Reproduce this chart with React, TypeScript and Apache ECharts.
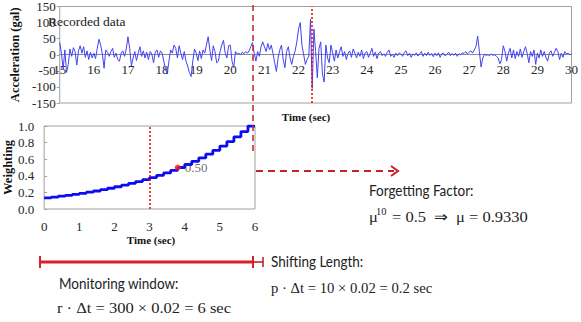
import React, { useEffect, useRef } from "react";
import * as echarts from "echarts";

// ---- Recorded acceleration (gal), sampled every 0.05 s from 15 s to 30 s ----
const accelStart = 15;
const accelStep = 0.05;
const accel15 = [38, 5, -45, 15, -55, -30, 18, -5, 22, 10, -32, 12, 28, 5, 25, -8, 12, -15, 8, -10];
const accel16 = [5, -12, 20, 48, 30, 2, -42, 15, 8, -5, 10, 20, -8, 5, -15, -20, 5, 12, -5, 18];
const accel17 = [56, 20, -35, -10, 10, -18, 5, 25, -5, 12, -10, 8, -15, 10, 2, -25, 8, 15, -8, 12];
const accel18 = [5, -20, -45, -60, -20, 15, 5, 30, 20, -10, 28, 5, -15, 10, -20, -35, -55, -68, -20, 18];
const accel19 = [5, -18, 12, -12, 15, 5, 30, 56, 15, -18, 28, 10, -25, -20, 10, 30, 45, 5, -10, 28];
const accel20 = [30, -20, -40, 10, 2, 5, 0, 8, 3, 10, 5, 12, 25, 38, 5, -20, 10, -5, 25, 40];
const accel21 = [25, 10, 35, 15, 30, 5, -25, -52, -10, 15, 30, -15, -40, 10, 25, -10, -30, -5, 12, 40];
const accel22 = [80, 100, 30, 0, -30, -15, -5, 110, -105, 80, 10, -72, 20, 40, -60, -85, 30, -10, -25, 30];
const accel23 = [5, -20, 15, -10, 8, 25, -5, 10, -15, 5, 12, -8, 18, 5, -10, 8, -5, 15, -12, 5];
const accel24 = [10, -8, 5, 20, -5, 8, -12, 5, 10, -3, 3, -5, 8, 15, -5, 2, -8, 5, -3, 6];
const accel25 = [2, -5, 8, 12, -3, 5, -8, 3, -2, 6, -4, 3, 10, -5, 5, -3, 8, -2, 4, -6];
const accel26 = [5, -3, 6, -8, 3, 5, -4, 2, 8, -3, 4, -2, 5, -5, 3, 0, 6, 4, 10, 2];
const accel27 = [8, 12, 5, 15, 25, 58, 10, -38, -10, 2, -2, 0, -3, 2, -2, 0, -5, -10, -28, -15];
const accel28 = [28, 10, -20, 5, 20, -10, 15, -12, 10, -5, 18, -8, 10, 25, 5, -25, 10, -5, 15, -30];
const accel29 = [5, -10, 15, -5, 10, -8, -20, 5, 12, -5, 8, 20, 10, -15, 5, -8, 10, 2, 5, 0];
const accel30 = [3];

// ---- Forgetting-factor weights over the 6 s window, one step per 0.2 s ----
const weightStep = 0.2;
const weights = [
  0.134, 0.143, 0.154, 0.165, 0.177, 0.189, 0.203, 0.217, 0.233, 0.25,
  0.268, 0.287, 0.308, 0.33, 0.353, 0.379, 0.406, 0.435, 0.466, 0.5,
  0.536, 0.574, 0.615, 0.66, 0.707, 0.758, 0.812, 0.87, 0.933, 1.0,
];
const halfWeightPoint = [3.8, 0.5];
const halfWeightLabel = "0.50";
const windowMarkTime = 3;
const eventMarkTime = 22.38;

const SERIF = "'Liberation Serif', 'Times New Roman', serif";
const SANS = "Lato, 'Open Sans', sans-serif";
const RED = "#c8202a";

function buildOption() {
  const accelAll = [
    accel15, accel16, accel17, accel18, accel19, accel20, accel21, accel22,
    accel23, accel24, accel25, accel26, accel27, accel28, accel29, accel30,
  ].flat();
  const accelData = accelAll.map((v, i) => [
    +(accelStart + i * accelStep).toFixed(2),
    v,
  ]);
  const weightData = weights.map((w, i) => [+(i * weightStep).toFixed(2), w]);
  weightData.push([+(weights.length * weightStep).toFixed(2), weights[weights.length - 1]]);

  const axisLabelStyle = { fontFamily: SERIF, fontSize: 13, color: "#262626" };
  const nameStyle = { fontFamily: SERIF, fontSize: 12.5, fontWeight: "bold" as const, color: "#111" };
  const dottedMark = (value: number) => ({
    silent: true,
    symbol: "none",
    label: { show: false },
    emphasis: { disabled: true },
    lineStyle: { color: "#ff0000", type: [2, 2], width: 1.5, opacity: 1 },
    data: [{ xAxis: value }],
  });

  const sansText = (x: number, y: number, text: string) => ({
    type: "text",
    x,
    y,
    scaleX: 0.9,
    style: { text, font: `15px ${SANS}`, fill: "#222", verticalAlign: "middle" },
  });
  const mathText = (x: number, y: number, text: string, scaleX: number) => ({
    type: "text",
    x,
    y,
    scaleX,
    style: { text, font: `15px ${SERIF}`, fill: "#222", verticalAlign: "middle" },
  });

  return {
    animation: false,
    grid: [
      { left: 40, top: 5, width: 532, height: 98, show: true, borderColor: "#a0a0a0", borderWidth: 1 },
      { left: 40, top: 126, width: 215, height: 83, show: true, borderColor: "#a0a0a0", borderWidth: 1 },
    ],
    xAxis: [
      {
        type: "value",
        gridIndex: 0,
        min: 15,
        max: 30,
        interval: 1,
        position: "bottom",
        offset: -49,
        axisLine: { onZero: false, lineStyle: { color: "#8a8a9a", width: 1 } },
        axisTick: { show: false },
        axisLabel: { ...axisLabelStyle, margin: 9 },
        splitLine: { show: false },
      },
      {
        type: "value",
        gridIndex: 1,
        min: 0,
        max: 6,
        interval: 1,
        axisLine: { show: false },
        axisTick: { show: false },
        axisLabel: { ...axisLabelStyle, margin: 11 },
        splitLine: { show: false },
      },
    ],
    yAxis: [
      {
        type: "value",
        gridIndex: 0,
        min: -150,
        max: 150,
        interval: 50,
        axisLine: { show: false, onZero: false },
        axisTick: { show: true, length: 3, lineStyle: { color: "#a0a0a0" } },
        axisLabel: { ...axisLabelStyle, margin: 4 },
        splitLine: { show: false },
        name: "Acceleration (gal)",
        nameLocation: "middle",
        nameGap: 36,
        nameTextStyle: nameStyle,
      },
      {
        type: "value",
        gridIndex: 1,
        min: 0,
        max: 1,
        interval: 0.2,
        axisLine: { show: false },
        axisTick: { show: true, inside: true, length: 3, lineStyle: { color: "#a0a0a0" } },
        axisLabel: { ...axisLabelStyle, margin: 10, formatter: (v: number) => v.toFixed(1) },
        splitLine: { show: false },
        name: "Weighting",
        nameLocation: "middle",
        nameGap: 30,
        nameTextStyle: nameStyle,
      },
    ],
    series: [
      {
        type: "line",
        xAxisIndex: 0,
        yAxisIndex: 0,
        data: accelData,
        symbol: "none",
        lineStyle: { color: "#4343f0", width: 1 },
        markLine: dottedMark(eventMarkTime),
      },
      {
        type: "line",
        xAxisIndex: 1,
        yAxisIndex: 1,
        data: weightData,
        step: "end",
        symbol: "none",
        lineStyle: { color: "#0c0cf2", width: 2.8 },
        markLine: dottedMark(windowMarkTime),
      },
      {
        type: "scatter",
        xAxisIndex: 1,
        yAxisIndex: 1,
        data: [halfWeightPoint],
        symbolSize: 6,
        itemStyle: { color: "#ff1a1a" },
        label: {
          show: true,
          position: "right",
          distance: 4,
          formatter: () => halfWeightLabel,
          fontFamily: SERIF,
          fontSize: 13,
          color: "#444",
        },
        z: 5,
      },
    ],
    graphic: [
      { type: "text", x: 48, y: 21, style: { text: "Recorded data", font: `13.5px ${SERIF}`, fill: "#1a1a1a", verticalAlign: "middle" } },
      { type: "text", x: 306, y: 117, style: { text: "Time (sec)", font: `bold 11px ${SERIF}`, fill: "#111", align: "center", verticalAlign: "middle" } },
      { type: "text", x: 151, y: 240, style: { text: "Time (sec)", font: `bold 11px ${SERIF}`, fill: "#111", align: "center", verticalAlign: "middle" } },
      // window start marker through both panels
      { type: "line", shape: { x1: 253, y1: 5, x2: 253, y2: 154 }, style: { stroke: RED, lineWidth: 1.5, lineDash: [6, 4] }, z: 10 },
      // arrow pointing to the forgetting factor
      { type: "line", shape: { x1: 256, y1: 171, x2: 394, y2: 171 }, style: { stroke: RED, lineWidth: 2, lineDash: [7, 5] }, z: 10 },
      { type: "polyline", shape: { points: [[391, 166], [398, 171], [391, 176]] }, style: { stroke: RED, lineWidth: 2, fill: "none" }, z: 10 },
      // monitoring window bar
      { type: "line", shape: { x1: 40, y1: 262, x2: 253, y2: 262 }, style: { stroke: "#dc1f2c", lineWidth: 3 } },
      { type: "line", shape: { x1: 40, y1: 256, x2: 40, y2: 268 }, style: { stroke: "#dc1f2c", lineWidth: 2 } },
      { type: "line", shape: { x1: 253, y1: 256, x2: 253, y2: 268 }, style: { stroke: "#dc1f2c", lineWidth: 2 } },
      // shifting length bar
      { type: "line", shape: { x1: 253, y1: 262, x2: 263, y2: 262 }, style: { stroke: "#b01822", lineWidth: 1.5 } },
      { type: "line", shape: { x1: 263, y1: 257, x2: 263, y2: 267 }, style: { stroke: "#b01822", lineWidth: 1.5 } },
      // annotation texts
      sansText(59, 283, "Monitoring window:"),
      mathText(57, 308, "r · Δt = 300 × 0.02 = 6 sec", 1.1),
      sansText(271, 261, "Shifting Length:"),
      mathText(271, 288, "p · Δt = 10 × 0.02 = 0.2 sec", 0.98),
      sansText(369, 190, "Forgetting Factor:"),
      mathText(369, 217, "μ", 1.1),
      { type: "text", x: 376, y: 211, style: { text: "10", font: `10.5px ${SERIF}`, fill: "#222", verticalAlign: "middle" } },
      mathText(392, 217, "= 0.5  ⇒  μ = 0.9330", 1.1),
    ],
  };
}

export default function App() {
  const ref = useRef<HTMLDivElement>(null);
  useEffect(() => {
    if (!ref.current) return;
    const chart = echarts.init(ref.current, null, { renderer: "svg" });
    chart.setOption(buildOption() as any);
    return () => chart.dispose();
  }, []);
  return (
    <div
      ref={ref}
      style={{ position: "fixed", left: 0, top: 0, width: 581, height: 322, background: "#fff" }}
    />
  );
}
